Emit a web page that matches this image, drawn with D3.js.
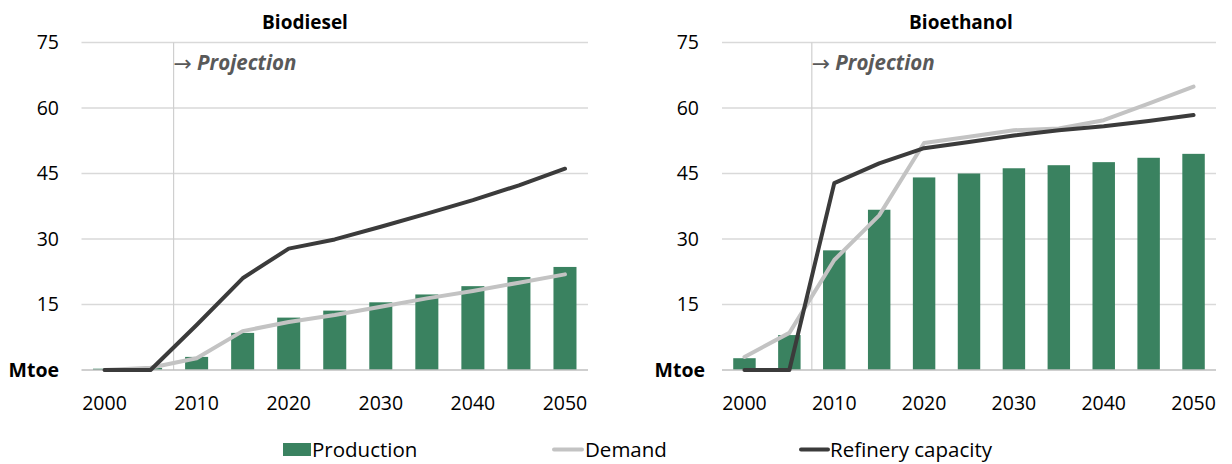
<!DOCTYPE html>
<html>
<head>
<meta charset="utf-8">
<script src="https://cdn.jsdelivr.net/npm/d3@7"></script>
<style>
  body { margin: 0; background: #fff; }
  svg { font-family: "Open Sans", "Noto Sans", sans-serif; }
</style>
</head>
<body>
<svg id="chart" width="1232" height="464"></svg>
<script>
const years = [2000, 2005, 2010, 2015, 2020, 2025, 2030, 2035, 2040, 2045, 2050];
const yTicks = [0, 15, 30, 45, 60, 75];
const xTickYears = [2000, 2010, 2020, 2030, 2040, 2050];

const biodieselProduction = [0.3, 0.5, 3.0, 8.5, 12.0, 13.6, 15.5, 17.3, 19.2, 21.3, 23.6];
const biodieselDemand = [0, 0.5, 2.7, 8.9, 11.0, 12.6, 14.5, 16.4, 18.1, 20.0, 21.9];
const biodieselCapacity = [0, 0, 10.3, 21.0, 27.8, 29.9, 32.8, 35.8, 38.9, 42.3, 46.1];

const bioethanolProduction = [2.7, 8.0, 27.4, 36.7, 44.1, 45.0, 46.2, 46.9, 47.6, 48.6, 49.5];
const bioethanolDemand = [3.0, 8.5, 25.2, 35.4, 52.0, 53.4, 54.9, 55.3, 57.2, 61.0, 64.9];
const bioethanolCapacity = [0, 0, 42.8, 47.3, 50.8, 52.2, 53.7, 54.9, 55.8, 57.0, 58.4];

const green = "#3a8260";
const demandGrey = "#c3c3c3";
const capacityDark = "#3b3b3b";

const svg = d3.select("#chart");

function drawPanel(opts) {
  const g = svg.append("g");

  const x = d3.scaleBand()
    .domain(years)
    .range([opts.left, opts.right])
    .paddingInner(0.5)
    .paddingOuter(0.25);

  // band without padding, for line points and the projection divider
  const xStep = d3.scaleBand().domain(years).range([opts.left, opts.right]);
  const cx = d => xStep(d) + xStep.bandwidth() / 2;

  const y = d3.scaleLinear().domain([0, 75]).range([370, 42.5]);

  // gridlines
  g.append("g")
    .selectAll("line")
    .data(yTicks.filter(d => d > 0))
    .join("line")
    .attr("x1", opts.left)
    .attr("x2", opts.right)
    .attr("y1", d => y(d))
    .attr("y2", d => y(d))
    .attr("stroke", "#d9d9d9")
    .attr("stroke-width", 1.3);

  // y tick labels
  g.append("g")
    .selectAll("text")
    .data(yTicks.filter(d => d > 0))
    .join("text")
    .attr("x", opts.labelX)
    .attr("y", d => y(d))
    .attr("dy", "0.35em")
    .attr("text-anchor", "end")
    .attr("font-size", 19.5)
    .attr("fill", "#000")
    .text(d => d);

  g.append("text")
    .attr("x", opts.mtoeX)
    .attr("y", y(0))
    .attr("dy", "0.35em")
    .attr("text-anchor", "end")
    .attr("font-size", 19.5)
    .attr("font-weight", "bold")
    .text("Mtoe");

  // projection divider
  const divX = xStep(2010);
  g.append("line")
    .attr("x1", divX).attr("x2", divX)
    .attr("y1", y(75)).attr("y2", y(0))
    .attr("stroke", "#cfcfcf")
    .attr("stroke-width", 1.2);

  const proj = g.append("text")
    .attr("x", divX)
    .attr("y", 70)
    .attr("font-size", 20.5)
    .attr("fill", "#595959");
  proj.append("tspan")
    .attr("font-family", "DejaVu Sans")
    .attr("font-weight", "normal")
    .attr("font-size", 22)
    .attr("dy", 1)
    .text("→");
  proj.append("tspan")
    .attr("dx", 5)
    .attr("dy", -1)
    .attr("font-weight", "bold")
    .attr("font-style", "italic")
    .text("Projection");

  // bars
  g.append("g")
    .selectAll("rect")
    .data(opts.production)
    .join("rect")
    .attr("x", (d, i) => x(years[i]))
    .attr("width", x.bandwidth())
    .attr("y", d => y(d))
    .attr("height", d => y(0) - y(d))
    .attr("fill", green);

  // baseline
  g.append("line")
    .attr("x1", opts.left).attr("x2", opts.right)
    .attr("y1", y(0)).attr("y2", y(0))
    .attr("stroke", "#bfbfbf")
    .attr("stroke-width", 1.3);

  const line = d3.line()
    .x((d, i) => cx(years[i]))
    .y(d => y(d));

  g.append("path")
    .datum(opts.demand)
    .attr("d", line)
    .attr("fill", "none")
    .attr("stroke", demandGrey)
    .attr("stroke-width", 4)
    .attr("stroke-linecap", "round")
    .attr("stroke-linejoin", "round");

  g.append("path")
    .datum(opts.capacity)
    .attr("d", line)
    .attr("fill", "none")
    .attr("stroke", capacityDark)
    .attr("stroke-width", 4)
    .attr("stroke-linecap", "round")
    .attr("stroke-linejoin", "round");

  // x axis labels
  g.append("g")
    .selectAll("text")
    .data(xTickYears)
    .join("text")
    .attr("x", d => cx(d))
    .attr("y", 410)
    .attr("text-anchor", "middle")
    .attr("font-size", 19.5)
    .text(d => d);

  // title
  g.append("text")
    .attr("x", opts.titleX)
    .attr("y", 29)
    .attr("text-anchor", "middle")
    .attr("font-size", 19)
    .attr("font-weight", "bold")
    .text(opts.title);
}

drawPanel({
  title: "Biodiesel", titleX: 305,
  left: 81.5, right: 588, labelX: 59, mtoeX: 59,
  production: biodieselProduction,
  demand: biodieselDemand,
  capacity: biodieselCapacity
});

drawPanel({
  title: "Bioethanol", titleX: 961,
  left: 722, right: 1216, labelX: 699, mtoeX: 705,
  production: bioethanolProduction,
  demand: bioethanolDemand,
  capacity: bioethanolCapacity
});

// legend
const legend = svg.append("g").attr("font-size", 20.5);
legend.append("rect")
  .attr("x", 283).attr("y", 443).attr("width", 28).attr("height", 13)
  .attr("fill", green);
legend.append("text").attr("x", 312).attr("y", 457).text("Production");

legend.append("line")
  .attr("x1", 554).attr("x2", 582).attr("y1", 449.5).attr("y2", 449.5)
  .attr("stroke", demandGrey).attr("stroke-width", 4).attr("stroke-linecap", "round");
legend.append("text").attr("x", 585).attr("y", 457).text("Demand");

legend.append("line")
  .attr("x1", 801).attr("x2", 828).attr("y1", 449.5).attr("y2", 449.5)
  .attr("stroke", capacityDark).attr("stroke-width", 4).attr("stroke-linecap", "round");
legend.append("text").attr("x", 830).attr("y", 457).text("Refinery capacity");
</script>
</body>
</html>
